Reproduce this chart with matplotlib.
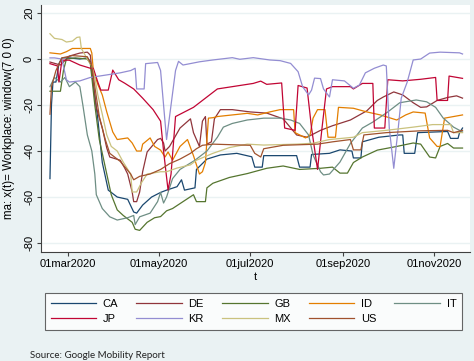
import numpy as np
import matplotlib
matplotlib.use('Agg')
import matplotlib.pyplot as plt
from matplotlib.lines import Line2D

# days are counted from 01mar2020, values are the 7-day moving average of workplace mobility
BASE = np.datetime64('2020-03-01')

COUNTRIES = ['CA', 'DE', 'GB', 'ID', 'IT', 'JP', 'KR', 'MX', 'US']
COLORS = ['#1a476f', '#90353b', '#55752f', '#e37e00', '#6e8e84',
          '#c10534', '#938dd2', '#cac27e', '#a0522d']

ca_days = [-12, -11, -10, -8, -6, -4, 1, 8, 13, 15, 17, 20, 23, 27, 33, 40, 44, 46, 50, 56,
           62, 66, 73, 76, 78, 85, 86, 93, 102, 113, 123, 125, 130, 131, 153, 155, 162, 163,
           175, 182, 190, 191, 196, 197, 208, 222, 224, 225, 232, 234, 254, 256, 261, 262, 264]
ca_vals = [-52, -20, -10, -10, -2, 0.5, 0.5, 0, 0.5, -1, -11, -26, -45, -57, -60, -61, -66.5, -67, -63.5, -60,
           -58, -57, -55.5, -52.5, -57, -56, -48, -43.5, -41.7, -41, -42.5, -47, -47, -42, -42, -47, -47, -41.5,
           -41, -39.5, -40, -43, -43, -36, -34, -33, -33, -41, -41, -32, -31.5, -34.5, -34.5, -32, -30]

de_days = [-12, -5, 1, 8, 13, 15, 17, 19, 23, 26, 28, 35, 38, 40, 43, 44, 46, 48, 50, 53,
           60, 62, 64, 65, 68, 75, 82, 84, 88, 90, 92, 93, 96, 98, 102, 110, 122, 133, 144, 153,
           160, 169, 177, 189, 200, 207, 211, 218, 224, 231, 236, 240, 247, 254, 260, 264]
de_vals = [-1.3, -2.6, 1.3, 2.6, 3, 1.7, -11, -21, -30, -38.7, -42.6, -44, -47.4, -50, -57.8, -62, -62, -57.8, -49, -40.4,
           -35, -34.5, -36.5, -40, -38, -30, -26, -32, -38, -27, -25, -37, -36, -26, -22, -22, -23, -23.5, -26, -33,
           -34, -31, -29, -26.5, -22.5, -18, -16.5, -14.3, -15.6, -19, -21, -20.8, -18, -16.7, -16, -17]

gb_days = [-12, -5, -3, -1, 5, 13, 15, 18, 21, 26, 29, 33, 37, 43, 45, 48, 53, 58, 62, 66,
           70, 77, 84, 86, 92, 93, 97, 108, 120, 133, 144, 155, 169, 177, 182, 187, 191, 197, 207, 220,
           231, 236, 242, 246, 249, 254, 258, 264]
gb_vals = [-14, -14, -5, 0, 0.5, 0, -2, -20, -35, -50, -59, -65.6, -68, -71, -74, -74.5, -71, -69, -68.5, -66,
           -65, -62, -59, -62, -62, -56, -54, -51.5, -49.8, -47.5, -46.5, -48, -47.5, -47, -49.6, -49.6, -45, -42.6, -39.6, -38,
           -36.5, -37, -42.6, -43, -38, -36.7, -38.7, -38.7]

id_days = [-12, -5, -1, 3, 15, 16, 17, 20, 23, 26, 30, 33, 40, 43, 46, 49, 50, 55, 58, 62,
           65, 67, 70, 75, 80, 84, 88, 90, 92, 94, 97, 100, 110, 120, 127, 135, 142, 151, 152, 159,
           162, 164, 167, 172, 174, 179, 181, 191, 200, 209, 220, 226, 231, 239, 242, 247, 249, 252,
           258, 264]
id_vals = [2.7, 2.2, 3.2, 4.6, 4.6, 2.6, -5, -11, -15.6, -23, -31.7, -35, -34.3, -36.5, -40, -40, -37, -34.3, -38, -39.6,
           -42.6, -40.4, -44, -38, -35, -42, -50, -49, -45, -25.7, -25.5, -25, -24.3, -23.6, -24.3, -23, -22, -22, -32, -34.3,
           -33, -25.7, -22, -22, -34, -34, -21, -21.4, -23, -24.3, -26.5, -24.3, -23, -23.5, -34.3, -38, -38, -25.7,
           -25, -24.3]

it_days = [-12, -9, -5, -2, 1, 5, 8, 10, 13, 16, 18, 19, 23, 28, 33, 40, 44, 45, 48, 55,
           60, 62, 64, 66, 70, 75, 85, 93, 100, 104, 110, 120, 131, 142, 149, 155, 161, 164, 169, 171,
           175, 182, 189, 197, 204, 214, 222, 233, 240, 246, 251, 258, 264]
it_vals = [-12, -8, -10, -8, -12, -10, -12, -20, -33, -40, -50, -59, -65, -68.6, -70, -69, -68, -72, -68.6, -67,
           -62, -58, -62.6, -60, -52, -48, -44, -40, -34, -29.6, -28, -26.5, -25.7, -25.7, -26.5, -28, -33, -41.7, -49, -50.4,
           -50, -44.8, -36.7, -30, -27.4, -23, -19, -17.8, -18.6, -21, -25.6, -29.6, -31.7]

jp_days = [-12, -7, -6, -4, 1, 8, 15, 17, 20, 22, 27, 30, 34, 38, 44, 50, 57, 62, 64, 67,
           69, 72, 84, 93, 100, 110, 124, 129, 133, 143, 145, 152, 154, 160, 163, 167, 170, 173, 177, 189,
           191, 197, 204, 205, 212, 214, 224, 236, 246, 247, 254, 255, 264]
jp_vals = [-2, -3, -10, -0.5, -0.5, -2.6, -4, -4, -10, -13.5, -13.5, -4.8, -9, -10.5, -13, -17, -22, -27, -40, -57,
           -50, -25, -21, -16.5, -13, -12, -10.6, -9.6, -11, -10.4, -30, -31, -11.5, -12.6, -30, -48, -30, -13, -12, -12,
           -13, -10.6, -10.6, -30, -30, -9, -9.5, -8.8, -8, -18, -18, -7.4, -8.4]

kr_days = [-12, -9, -4, -1, 1, 8, 15, 25, 35, 42, 45, 46, 51, 52, 60, 62, 66, 72, 74, 77,
           88, 97, 110, 115, 124, 135, 142, 149, 154, 157, 161, 163, 165, 169, 171, 175, 177, 185, 191, 195,
           199, 205, 211, 213, 215, 218, 221, 223, 227, 231, 236, 242, 249, 262, 264]
kr_vals = [0.5, 0.5, 0, -9, -10, -9.5, -8, -7, -6, -5, -4, -13, -13, -2, -1.5, -5, -35, -5, -1, -2.6,
           -1.2, -0.4, 0.6, -0.1, 0.6, -0.4, -0.7, -1.9, -5.5, -12, -15.6, -13.5, -8.3, -8.5, -13, -16.5, -9, -9.5, -12.7, -11.3,
           -6, -4, -2.6, -3, -30, -47.5, -30, -17, -10, -0.4, 0, 2.6, 3, 2.7, 2.2]

mx_days = [-12, -9, -4, -1, 3, 6, 8, 9, 13, 16, 18, 20, 23, 26, 29, 33, 37, 42, 43, 46,
           49, 53, 62, 66, 73, 82, 86, 97, 108, 120, 131, 153, 164, 175, 191, 197, 213, 231, 244, 256,
           258, 264]
mx_vals = [11, 9, 8.5, 7.4, 7.8, 9.4, 9.6, 4.6, 0, -3, -8, -15.6, -24, -33, -38, -40, -44.8, -50, -57.8, -57.8,
           -54, -50, -49, -49, -47.4, -46, -44, -41, -38.5, -37, -37.4, -37, -36.6, -35, -34, -32, -31, -29.6, -28.5, -28.5,
           -32, -32]

us_days = [-12, -11, -8, -4, 3, 13, 16, 18, 21, 25, 28, 35, 42, 44, 48, 55, 62, 68, 75, 82,
           86, 90, 97, 122, 125, 129, 131, 144, 167, 177, 189, 191, 196, 198, 213, 236, 254, 258, 264]
us_vals = [-24, -12, -5, 0.5, 1.5, 1, -3, -12, -25, -35, -41, -44.5, -50, -52.5, -51, -50, -48, -45.5, -43.5, -41,
           -39, -37.5, -37, -37.5, -41, -42.6, -39, -37.5, -37, -36, -35, -39.5, -39.5, -33, -32, -31.2, -31, -32, -31]

DAYS = [ca_days, de_days, gb_days, id_days, it_days, jp_days, kr_days, mx_days, us_days]
VALS = [ca_vals, de_vals, gb_vals, id_vals, it_vals, jp_vals, kr_vals, mx_vals, us_vals]

XTICKS = ['2020-03-01', '2020-05-01', '2020-07-01', '2020-09-01', '2020-11-01']
XTICKLABELS = ['01mar2020', '01may2020', '01jul2020', '01sep2020', '01nov2020']
YTICKS = [-80, -60, -40, -20, 0, 20]

BG = '#eaf2f3'
W, H = 474, 361

plt.rcParams['font.family'] = ['Liberation Sans', 'DejaVu Sans']

fig = plt.figure(figsize=(W / 100, H / 100), dpi=100, facecolor=BG)
ax = fig.add_axes([41 / W, 109 / H, 429 / W, 247 / H])
ax.set_facecolor('white')

for name, days, vals, col in zip(COUNTRIES, DAYS, VALS, COLORS):
    t = BASE + np.array(days).astype('timedelta64[D]')
    ax.plot(t, vals, color=col, lw=0.9, label=name)

ax.set_xlim(BASE - np.timedelta64(18, 'D'), BASE + np.timedelta64(269, 'D'))
ax.set_ylim(-83.9, 23.5)

ax.set_xticks([np.datetime64(d) for d in XTICKS])
ax.set_xticklabels(XTICKLABELS, fontsize=8)
ax.set_yticks(YTICKS)
ax.set_yticklabels([str(v) for v in YTICKS], fontsize=8, rotation=90, va='center')
ax.tick_params(axis='both', length=3, width=0.8, color='#404040', pad=2)

ax.yaxis.grid(True, color=BG, lw=1)
ax.set_axisbelow(True)
for s in ['top', 'right']:
    ax.spines[s].set_visible(False)
for s in ['left', 'bottom']:
    ax.spines[s].set_color('#404040')
    ax.spines[s].set_linewidth(0.8)

ax.set_ylabel('ma: x(t)= Workplace: window(7 0 0)', fontsize=8.3)
ax.yaxis.set_label_coords(-26 / 429, 0.5)
ax.set_xlabel('t', fontsize=8)
ax.xaxis.set_label_coords(0.5, -20 / 247)

# legend is filled row by row in the original, matplotlib fills by column
order = [0, 5, 1, 6, 2, 7, 3, 8, 4]
handles = [Line2D([], [], color=COLORS[i], lw=0.9) for i in order]
labels = [COUNTRIES[i] for i in order]
leg = fig.legend(handles, labels, ncol=5, loc='center', mode='expand',
                 bbox_to_anchor=(45 / W, 29 / H, 417 / W, 41 / H), borderaxespad=0,
                 fontsize=8, frameon=True, fancybox=False, edgecolor='#404040',
                 handlelength=4.1, handletextpad=0.6, labelspacing=0.5, borderpad=0.5)
leg.get_frame().set_linewidth(0.8)

fig.text(30 / W, 1 - 355 / H, 'Source: Google Mobility Report', fontsize=7,
         family=['Lato', 'DejaVu Sans'], va='center', color='#222222')

fig.savefig('out.png', dpi=100, facecolor=BG)
